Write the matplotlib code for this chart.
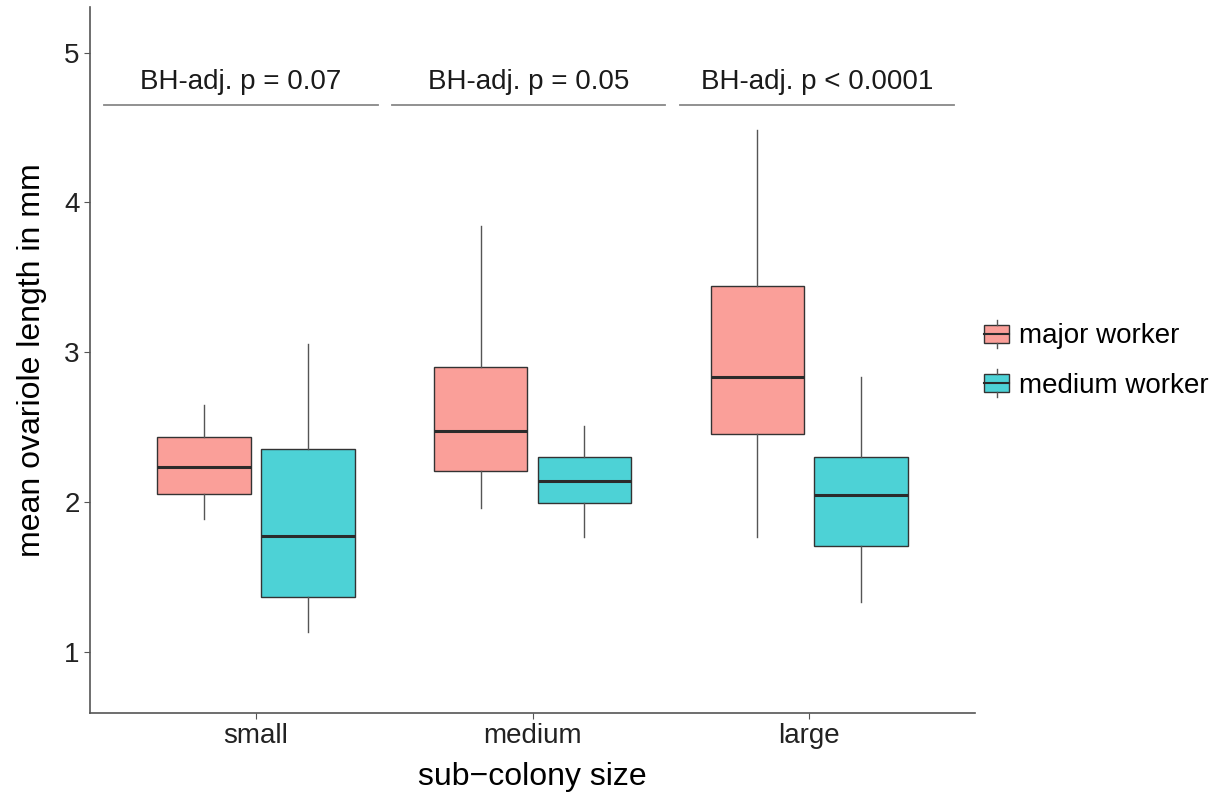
import numpy as np
import matplotlib
matplotlib.use("Agg")
import matplotlib.pyplot as plt
from matplotlib.legend_handler import HandlerBase
from matplotlib.patches import Rectangle
from matplotlib.lines import Line2D

plt.rcParams['font.family'] = ['Liberation Sans', 'DejaVu Sans']

# data
categories = ["small", "medium", "large"]
groups = ["major worker", "medium worker"]
colors = ["#F8766D", "#00BFC4"]

# per group, per category: (whislo, q1, median, q3, whishi)
major_stats = [
    (1.89, 2.057, 2.235, 2.433, 2.649),
    (1.963, 2.209, 2.475, 2.902, 3.842),
    (1.769, 2.455, 2.835, 3.442, 4.482),
]
medium_stats = [
    (1.133, 1.371, 1.777, 2.355, 3.055),
    (1.767, 1.997, 2.144, 2.304, 2.509),
    (1.335, 1.709, 2.049, 2.302, 2.835),
]

p_labels = ["BH-adj. p = 0.07", "BH-adj. p = 0.05", "BH-adj. p < 0.0001"]
bracket_x = [(0.451, 1.440), (1.491, 2.480), (2.534, 3.523)]
bracket_y = 4.648

fig = plt.figure(figsize=(12.22, 7.94), dpi=100)
ax = fig.add_axes([0.0737, 0.1024, 0.7243, 0.8888])

edge = "#333333"
offset = 0.1875
width = 0.3375


def faded(col):
    # ggplot fill with alpha 0.7 on white
    return [0.3 + 0.7 * c for c in matplotlib.colors.to_rgb(col)]


for gi, (stats, col) in enumerate(zip([major_stats, medium_stats], colors)):
    bxp_stats = []
    for lo, q1, med, q3, hi in stats:
        bxp_stats.append(dict(whislo=lo, q1=q1, med=med, q3=q3, whishi=hi, fliers=[]))
    pos = np.arange(1, 4) + (gi * 2 - 1) * offset
    bp = ax.bxp(bxp_stats, positions=pos, widths=width, patch_artist=True,
                showcaps=False, showfliers=False, manage_ticks=False,
                boxprops=dict(facecolor=faded(col), edgecolor=edge, linewidth=1.0),
                medianprops=dict(color="#2b2b2b", linewidth=2.2),
                whiskerprops=dict(color="#555555", linewidth=1.0))
    for b in bp['boxes']:
        b.set_zorder(2)
    for m in bp['medians']:
        m.set_zorder(3)

for (x0, x1), lab in zip(bracket_x, p_labels):
    ax.plot([x0, x1], [bracket_y, bracket_y], color="#888888", lw=1.3)
    ax.text((x0 + x1) / 2, bracket_y + 0.107, lab, ha="center", va="baseline",
            fontsize=20, color="#1a1a1a")

ax.set_xlim(0.4, 3.6)
ax.set_ylim(0.597, 5.304)
ax.set_xticks([1, 2, 3])
ax.set_xticklabels(categories)
ax.set_yticks([1, 2, 3, 4, 5])
ax.tick_params(axis="both", labelsize=20, color="#555555", length=4, width=0.8,
               labelcolor="#222222")
ax.set_xlabel("sub\u2212colony size", fontsize=23, labelpad=9)
ax.set_ylabel("mean ovariole length in mm", fontsize=23, labelpad=12)
for sp in ["top", "right"]:
    ax.spines[sp].set_visible(False)
for sp in ["left", "bottom"]:
    ax.spines[sp].set_color("#555555")
    ax.spines[sp].set_linewidth(1.2)


class BoxHandler(HandlerBase):
    def create_artists(self, legend, orig_handle, xdescent, ydescent, width, height, fontsize, trans):
        fc = orig_handle.get_facecolor()
        x0 = -xdescent
        y0 = -ydescent
        rect = Rectangle((x0, y0), width, height, facecolor=fc, edgecolor=edge, lw=1.0, transform=trans)
        mid = y0 + height / 2
        med = Line2D([x0, x0 + width], [mid, mid], color="#2b2b2b", lw=1.5, transform=trans)
        cx = x0 + width / 2
        top = Line2D([cx, cx], [y0 + height, y0 + height + 3.5], color="#555555", lw=1.0, transform=trans)
        bot = Line2D([cx, cx], [y0 - 3.5, y0], color="#555555", lw=1.0, transform=trans)
        return [rect, med, top, bot]


handles = [Rectangle((0, 0), 1, 1, facecolor=faded(col)) for col in colors]
fig.legend(handles, groups, handler_map={Rectangle: BoxHandler()},
           loc="center left", bbox_to_anchor=(0.7895, 0.545), frameon=False,
           fontsize=20, handlelength=0.9, handleheight=0.62, handletextpad=0.36,
           labelspacing=0.85, borderpad=0.2)

fig.savefig("out.png", dpi=100)
